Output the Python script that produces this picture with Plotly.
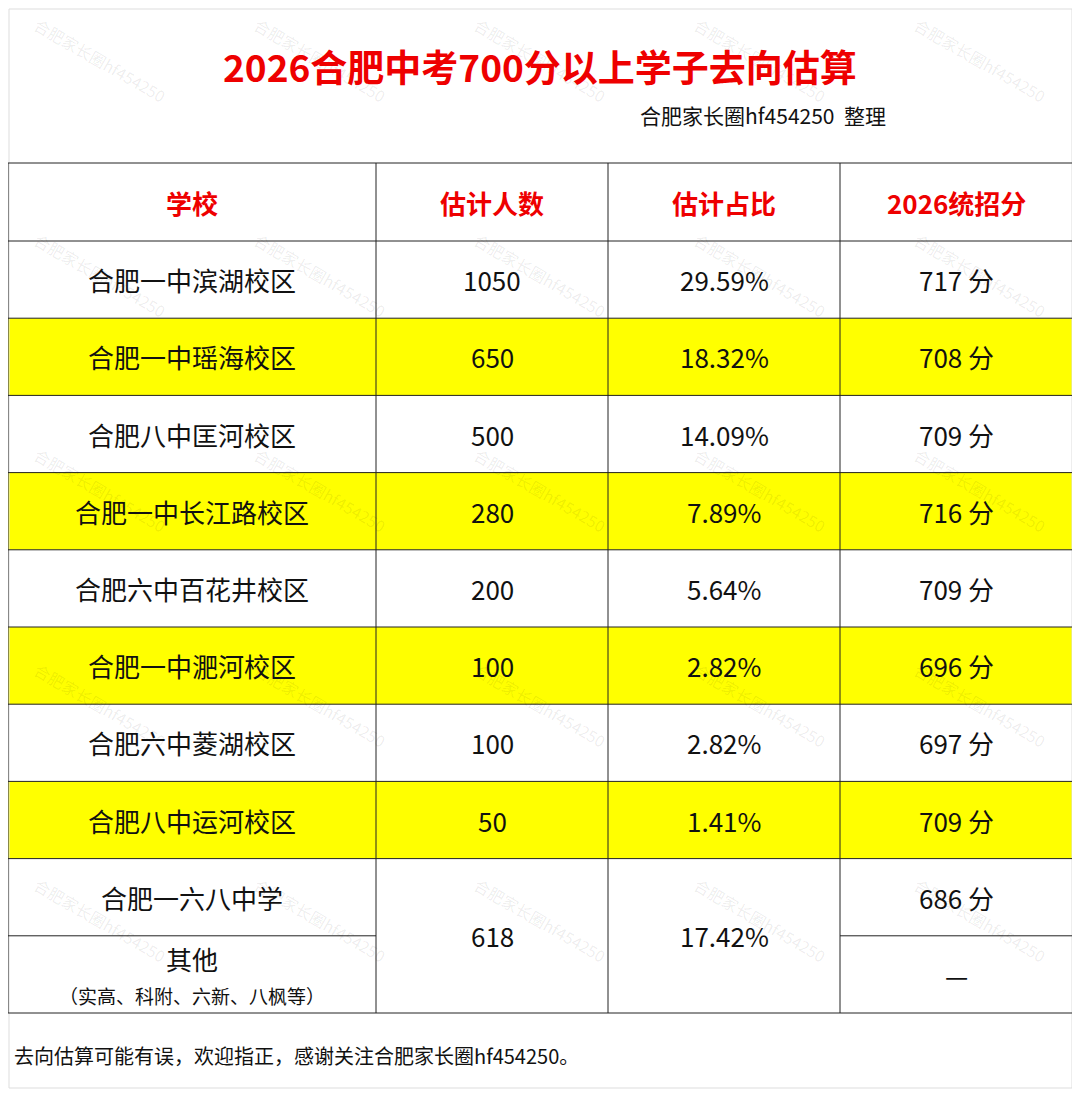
import plotly.graph_objects as go

title = "2026合肥中考700分以上学子去向估算"
subtitle = "合肥家长圈hf454250  整理"
footer = "去向估算可能有误，欢迎指正，感谢关注合肥家长圈hf454250。"
headers = ["学校", "估计人数", "估计占比", "2026统招分"]
schools = ["合肥一中滨湖校区", "合肥一中瑶海校区", "合肥八中匡河校区", "合肥一中长江路校区",
           "合肥六中百花井校区", "合肥一中淝河校区", "合肥六中菱湖校区", "合肥八中运河校区",
           "合肥一六八中学", "其他<br><span style='font-size:19px'>（实高、科附、六新、八枫等）</span>"]
counts = ["1050", "650", "500", "280", "200", "100", "100", "50"]
shares = ["29.59%", "18.32%", "14.09%", "7.89%", "5.64%", "2.82%", "2.82%", "1.41%"]
scores = ["717 分", "708 分", "709 分", "716 分", "709 分", "696 分", "697 分", "709 分", "686 分", "—"]
merged_count = "618"
merged_share = "17.42%"
watermark = "合肥家长圈hf454250"

W, H = 1080, 1097
OFF = 8
cols = [8, 376, 608, 840, 1073]
top, hdr_h, row_h = 163, 78, 77.2
FONT = "Noto Sans CJK SC"
shapes, ann = [], []

def ytop(i):
    return top + hdr_h + i * row_h

shapes.append(dict(type="rect", x0=9, x1=1072, y0=9, y1=1088, line=dict(color="#dddddd", width=1)))
for i in range(len(schools)):
    if i % 2 == 1 and i < 8:
        shapes.append(dict(type="rect", x0=cols[0], x1=cols[-1], y0=ytop(i), y1=ytop(i + 1),
                           fillcolor="#FFFF00", line=dict(width=0), layer="below"))
for wy in range(60, 1097, 215):
    for wx in range(100, 1080, 220):
        ann.append(dict(x=wx, y=wy, text=watermark, showarrow=False, textangle=30,
                        font=dict(family=FONT, size=16, color="rgba(0,0,0,0.08)")))
bottom = ytop(len(schools))
for y in [top, top + hdr_h] + [ytop(i) for i in range(1, len(schools) + 1)]:
    if abs(y - ytop(9)) < 1:
        for a, b in [(cols[0], cols[1]), (cols[3], cols[4])]:
            shapes.append(dict(type="line", x0=a, x1=b, y0=y, y1=y, line=dict(color="#222", width=1)))
    else:
        shapes.append(dict(type="line", x0=cols[0], x1=cols[-1], y0=y, y1=y, line=dict(color="#222", width=1)))
for x in cols:
    shapes.append(dict(type="line", x0=x, x1=x, y0=top, y1=bottom, line=dict(color="#222", width=1)))

def cx(c):
    return (cols[c] + cols[c + 1]) / 2

for c, h in enumerate(headers):
    ann.append(dict(x=cx(c), y=top + hdr_h / 2, text=f"<b>{h}</b>", showarrow=False,
                    font=dict(family=FONT, size=26, color="#ee0000")))
for i, s in enumerate(schools):
    yc = ytop(i) + row_h / 2
    ann.append(dict(x=cx(0), y=yc, text=s, showarrow=False, font=dict(family=FONT, size=26, color="#111")))
    ann.append(dict(x=cx(3), y=yc, text=scores[i], showarrow=False, font=dict(family=FONT, size=26, color="#111")))
    if i < len(counts):
        ann.append(dict(x=cx(1), y=yc, text=counts[i], showarrow=False, font=dict(family=FONT, size=26, color="#111")))
        ann.append(dict(x=cx(2), y=yc, text=shares[i], showarrow=False, font=dict(family=FONT, size=26, color="#111")))
ym = (ytop(8) + bottom) / 2
ann.append(dict(x=cx(1), y=ym, text=merged_count, showarrow=False, font=dict(family=FONT, size=26, color="#111")))
ann.append(dict(x=cx(2), y=ym, text=merged_share, showarrow=False, font=dict(family=FONT, size=26, color="#111")))

ann.append(dict(x=540, y=66, text=f"<b>{title}</b>", showarrow=False, font=dict(family=FONT, size=37, color="#ee0000")))
ann.append(dict(x=763, y=115, text=subtitle, showarrow=False, font=dict(family=FONT, size=21, color="#111")))
ann.append(dict(x=12, y=1055, text=footer, showarrow=False, xanchor="left", font=dict(family=FONT, size=20, color="#111")))

fig = go.Figure()
fig.update_layout(width=W - 2 * OFF, height=H - 2 * OFF, margin=dict(l=0, r=0, t=0, b=0),
                  plot_bgcolor="white", paper_bgcolor="white",
                  xaxis=dict(range=[OFF, W - OFF], visible=False, fixedrange=True),
                  yaxis=dict(range=[H - OFF, OFF], visible=False, fixedrange=True),
                  shapes=shapes, annotations=ann, showlegend=False)
fig.write_html("out.html")
